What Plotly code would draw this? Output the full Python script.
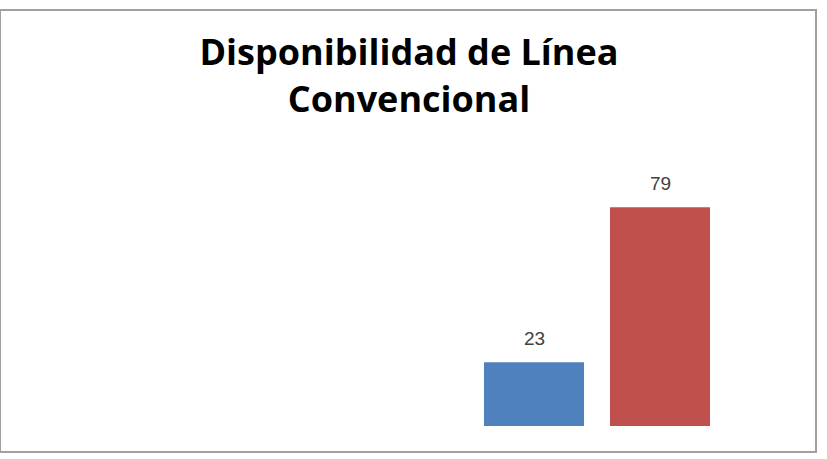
import plotly.graph_objects as go

categories = ["Sí", "No"]
values = [23, 79]
colors = ["#4F81BD", "#C0504D"]
title_text = "Disponibilidad de Línea<br>Convencional"

fig = go.Figure()
fig.add_trace(go.Bar(
    x=list(range(len(categories))), y=values,
    marker=dict(color=colors, line=dict(width=0)),
    hovertext=categories, showlegend=False,
))

for i, v in enumerate(values):
    fig.add_annotation(x=i, y=v, text=str(v), showarrow=False,
                       yanchor="bottom", yshift=11,
                       font=dict(family="Liberation Sans", size=19, color="#404040"))

fig.update_layout(
    width=827, height=459,
    margin=dict(l=1, r=12, t=11, b=8),
    paper_bgcolor="white", plot_bgcolor="white",
    bargap=0.206,
    title=dict(text=title_text, x=409/827, xanchor="center", xref="container",
               y=1 - 65/459, yanchor="top", yref="container",
               font=dict(family="Open Sans", size=36, color="#000000", weight="bold")),
    xaxis=dict(range=[-4.230, 2.230], showticklabels=False, showgrid=False,
               zeroline=False, showline=True, mirror=True, linecolor="#a0a0a0",
               linewidth=2, ticks=""),
    yaxis=dict(range=[-9.03, 149.8], showticklabels=False, showgrid=False,
               zeroline=False, showline=True, mirror=True, linecolor="#a0a0a0",
               linewidth=2, ticks=""),
)
fig.write_html("out.html")
